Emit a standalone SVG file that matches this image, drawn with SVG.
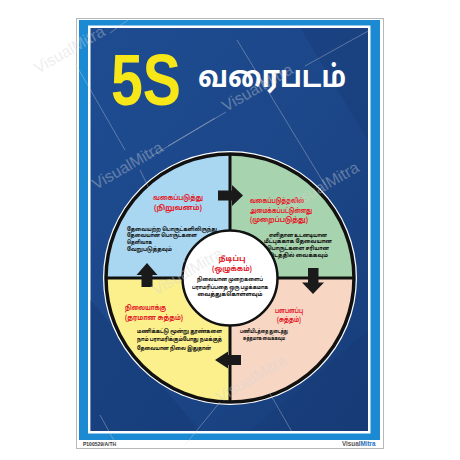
<svg xmlns="http://www.w3.org/2000/svg" width="460" height="460" viewBox="0 0 460 460">
<defs>
<style>
.ta{font-family:"Noto Sans Tamil","Noto Sans","Lohit Tamil",sans-serif;}
.hd{font-size:7.4px;font-weight:bold;fill:#e3202a;}
.bd{font-size:6px;font-weight:bold;fill:#111;}
.wm{font-family:"Liberation Sans",Arial,sans-serif;font-size:16px;fill:#d4d4d4;opacity:0.38;}
.wl{stroke:#d8d8d8;stroke-width:0.7;opacity:0.5;fill:none;}
.div{stroke:#111;stroke-width:3;}
.arr{fill:#1a1a1a;}
</style>
<linearGradient id="navy" x1="0" y1="0" x2="1" y2="1">
<stop offset="0" stop-color="#1e4c91"/>
<stop offset="0.5" stop-color="#1c4789"/>
<stop offset="1" stop-color="#173d7a"/>
</linearGradient>
</defs>

<!-- poster frame -->
<g id="frame">
<rect x="76.5" y="18.5" width="307" height="430" fill="#ffffff" stroke="#b8b8b8" stroke-width="1"/>
<rect x="79" y="20" width="301" height="420" fill="#1b8ad3"/>
<rect x="88" y="25.5" width="282.5" height="408" fill="#ffffff"/>
<rect x="90.5" y="28" width="277.5" height="403" fill="url(#navy)"/>
<polygon points="90.5,300 200,431 90.5,431" fill="#163a73" opacity="0.5"/>
<polygon points="300,28 368,28 368,140" fill="#163a73" opacity="0.35"/>
<polygon points="250,431 368,330 368,431" fill="#163a73" opacity="0.4"/>
<rect x="79" y="440" width="301" height="8" fill="#ffffff"/>
<text x="83" y="446" font-family="'Liberation Sans',Arial,sans-serif" font-size="5" font-weight="bold" fill="#333">P100529/A/TH</text>
<text x="342" y="446" font-family="'Liberation Sans',Arial,sans-serif" font-size="6.3" font-weight="bold" fill="#555">Visual<tspan fill="#1b6fc0">Mitra</tspan></text>
</g>

<!-- title -->
<g id="title">
<text x="111" y="105" font-family="'Liberation Sans',Arial,sans-serif" font-size="73" font-weight="bold" fill="#f7e618" textLength="70" lengthAdjust="spacingAndGlyphs">5S</text>
<text class="ta" x="198" y="87" font-size="30" font-weight="bold" fill="#ffffff" textLength="148" lengthAdjust="spacingAndGlyphs">வரைபடம்</text>
</g>

<!-- wheel background -->
<g id="wheel">
<circle cx="230" cy="278" r="127" fill="#ffffff"/>
<path d="M230,278 L106,278 A124,124 0 0 1 230,154 Z" fill="#a9d7f2"/>
<path d="M230,278 L230,154 A124,124 0 0 1 354,278 Z" fill="#a7d4ae"/>
<path d="M230,278 L354,278 A124,124 0 0 1 230,402 Z" fill="#f8d6c4"/>
<path d="M230,278 L230,402 A124,124 0 0 1 106,278 Z" fill="#fcf08d"/>
<line class="div" x1="230" y1="154" x2="230" y2="402"/>
<line class="div" x1="106" y1="278" x2="354" y2="278"/>
<circle cx="230" cy="278" r="124" fill="none" stroke="#111" stroke-width="3.5"/>
</g>

<!-- connectors (arrows) -->
<g id="connectors">
<polygon class="arr" points="218,190.5 232,190.5 232,185 243,195.5 232,206 232,200.5 218,200.5"/>
<polygon class="arr" points="308,268 318.5,268 318.5,282.5 324,282.5 313,294 302,282.5 308,282.5"/>
<polygon class="arr" points="241,355 228,355 228,351.5 215,360 228,368.5 228,365 241,365"/>
<polygon class="arr" points="141.5,287 152.5,287 152.5,275 157.5,275 147,263 136.5,275 141.5,275"/>
</g>

<g id="sort" class="ta">
<text class="hd" x="178" y="199.5" text-anchor="middle" textLength="50" lengthAdjust="spacingAndGlyphs">வகைப்படுத்து</text>
<text class="hd" x="178" y="209.5" text-anchor="middle" textLength="48" lengthAdjust="spacingAndGlyphs">(நிறுவனம்)</text>
<text class="bd" x="127" y="230.5" textLength="90" lengthAdjust="spacingAndGlyphs">தேவையற்ற பொருட்களிலிருந்து</text>
<text class="bd" x="127" y="237" textLength="70" lengthAdjust="spacingAndGlyphs">தேவையான பொருட்களை</text>
<text class="bd" x="127" y="243.5" textLength="25" lengthAdjust="spacingAndGlyphs">தெளிவாக</text>
<text class="bd" x="127" y="250.5" textLength="45" lengthAdjust="spacingAndGlyphs">வேறுபடுத்தவும்</text>
</g>

<g id="setinorder" class="ta">
<text class="hd" x="250" y="203" textLength="54" lengthAdjust="spacingAndGlyphs">வகைப்படுத்தலில்</text>
<text class="hd" x="250" y="212.5" textLength="62" lengthAdjust="spacingAndGlyphs">அமைக்கப்பட்டுள்ளது</text>
<text class="hd" x="250" y="222" textLength="58" lengthAdjust="spacingAndGlyphs">(முறைப்படுத்து)</text>
<text class="bd" x="298" y="236.5" text-anchor="middle" textLength="58" lengthAdjust="spacingAndGlyphs">எளிதான உடனடியான</text>
<text class="bd" x="298" y="243" text-anchor="middle" textLength="68" lengthAdjust="spacingAndGlyphs">மீட்புக்காக தேவையான</text>
<text class="bd" x="298" y="249.5" text-anchor="middle" textLength="62" lengthAdjust="spacingAndGlyphs">பொருட்களை சரியான</text>
<text class="bd" x="298" y="256.5" text-anchor="middle" textLength="60" lengthAdjust="spacingAndGlyphs">இடத்தில் வைக்கவும்</text>
</g>

<g id="shine" class="ta">
<text class="hd" x="289" y="313" text-anchor="middle" textLength="28" lengthAdjust="spacingAndGlyphs">பளபளப்பு</text>
<text class="hd" x="289" y="322" text-anchor="middle" textLength="24" lengthAdjust="spacingAndGlyphs">(சுத்தம்)</text>
<text class="bd" x="264" y="333" text-anchor="middle" textLength="48" lengthAdjust="spacingAndGlyphs">பணியிடத்தை துடைத்து</text>
<text class="bd" x="264" y="340" text-anchor="middle" textLength="42" lengthAdjust="spacingAndGlyphs">சுத்தமாக வைக்கவும்</text>
</g>

<g id="standardize" class="ta">
<text class="hd" x="125" y="310" textLength="41" lengthAdjust="spacingAndGlyphs">நிலையாக்கு</text>
<text class="hd" x="125" y="319.5" textLength="58" lengthAdjust="spacingAndGlyphs">(தரமான சுத்தம்)</text>
<text class="bd" x="137" y="333" textLength="85" lengthAdjust="spacingAndGlyphs">மணிக்கட்டு மூன்று தூண்களை</text>
<text class="bd" x="137" y="341" textLength="85" lengthAdjust="spacingAndGlyphs">நாம் பராமரிக்கும்போது நமக்குத்</text>
<text class="bd" x="137" y="349.5" textLength="74" lengthAdjust="spacingAndGlyphs">தேவையான நிலை இதுதான்</text>
</g>

<g id="sustain" class="ta">
<circle cx="230" cy="278" r="47.5" fill="#ffffff" stroke="#111" stroke-width="2.5"/>
<text class="hd" x="232" y="261" text-anchor="middle" textLength="27" lengthAdjust="spacingAndGlyphs">நீடிப்பு</text>
<text class="hd" x="232" y="270.5" text-anchor="middle" textLength="40" lengthAdjust="spacingAndGlyphs">(ஒழுக்கம்)</text>
<text class="bd" x="230" y="281" text-anchor="middle" textLength="66" lengthAdjust="spacingAndGlyphs">நிலையான முறைகளைப்</text>
<text class="bd" x="230" y="288.5" text-anchor="middle" textLength="76" lengthAdjust="spacingAndGlyphs">பராமரிப்பதை ஒரு பழக்கமாக</text>
<text class="bd" x="230" y="296" text-anchor="middle" textLength="65" lengthAdjust="spacingAndGlyphs">வைத்துக்கொள்ளவும்</text>
</g>

<!-- watermark -->
<g id="watermark">
<line class="wl" x1="75" y1="63" x2="125" y2="150"/>
<line class="wl" x1="237" y1="40" x2="325" y2="185"/>
<line class="wl" x1="140" y1="170" x2="185" y2="262"/>
<line class="wl" x1="100" y1="415" x2="118" y2="448"/>
<line class="wl" x1="265" y1="385" x2="292" y2="432"/>
<line class="wl" x1="150" y1="157" x2="226" y2="112"/>
<line class="wl" x1="305" y1="66" x2="370" y2="30"/>
<line class="wl" x1="110" y1="33" x2="128" y2="20"/>
<line class="wl" x1="168" y1="146" x2="215" y2="118"/>
<line class="wl" x1="185" y1="445" x2="220" y2="402"/>
<text class="wm" x="38" y="74" transform="rotate(-30 38 74)">VisualMitra</text>
<text class="wm" x="96" y="190" transform="rotate(-30 96 190)">VisualMitra</text>
<text class="wm" x="226" y="112" transform="rotate(-30 226 112)">VisualMitra</text>
<text class="wm" x="292" y="210" transform="rotate(-30 292 210)">VisualMitra</text>
<text class="wm" x="156" y="296" transform="rotate(-30 156 296)">VisualMitra</text>
<text class="wm" x="220" y="403" transform="rotate(-30 220 403)">VisualMitra</text>
</g>
</svg>
